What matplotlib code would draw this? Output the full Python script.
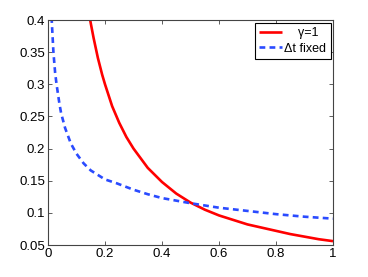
import matplotlib
matplotlib.use("Agg")
import matplotlib.pyplot as plt
import numpy as np

# red curve (gamma = 1)
red_x = [0.14, 0.15, 0.16, 0.175, 0.19, 0.2, 0.225, 0.25, 0.275, 0.3, 0.35, 0.4, 0.45,
         0.5, 0.55, 0.6, 0.65, 0.7, 0.75, 0.8, 0.85, 0.9, 0.95, 1.0]
red_y = [0.42, 0.395, 0.372, 0.341, 0.315, 0.300, 0.266, 0.240, 0.218, 0.200, 0.170,
         0.148, 0.130, 0.116, 0.105, 0.096, 0.089, 0.082, 0.077, 0.072, 0.067, 0.063,
         0.059, 0.056]

# blue dashed curve (dt fixed)
blue_x = [0.01, 0.013, 0.019, 0.025, 0.03, 0.04, 0.046, 0.06, 0.08, 0.1, 0.125, 0.15,
          0.2, 0.241, 0.3, 0.35, 0.4, 0.5, 0.6, 0.7, 0.8, 0.9, 1.0]
blue_y = [0.42, 0.40, 0.35, 0.318, 0.30, 0.270, 0.255, 0.232, 0.208, 0.192, 0.177,
          0.166, 0.152, 0.146, 0.136, 0.129, 0.123, 0.115, 0.108, 0.103, 0.098, 0.094,
          0.091]

x_ticks = [0, 0.2, 0.4, 0.6, 0.8, 1]
x_labels = ["0", "0.2", "0.4", "0.6", "0.8", "1"]
y_ticks = [0.05, 0.1, 0.15, 0.2, 0.25, 0.3, 0.35, 0.4]
y_labels = ["0.05", "0.1", "0.15", "0.2", "0.25", "0.3", "0.35", "0.4"]

plt.rcParams['font.family'] = ['Liberation Sans', 'DejaVu Sans']

fig = plt.figure(figsize=(3.68, 2.77), dpi=100)
ax = fig.add_axes([48/368, 1 - 245/277, (333-48)/368, (245-20)/277])

ax.plot(red_x, red_y, color='#ff0000', lw=1.9, label='    \u03b3=1', solid_capstyle='butt')
ax.plot(blue_x, blue_y, color='#2a4bff', lw=1.9, ls=(0, (2.2, 1.6)), label='\u0394t fixed')

ax.set_xlim(0, 1)
ax.set_ylim(0.05, 0.4)
ax.set_xticks(x_ticks)
ax.set_xticklabels(x_labels)
ax.set_yticks(y_ticks)
ax.set_yticklabels(y_labels)
ax.tick_params(direction='in', top=True, right=True, length=3, width=0.6,
               labelsize=9.5, color='#444444', pad=2)
for s in ax.spines.values():
    s.set_color('#444444')
    s.set_linewidth(0.8)

leg = ax.legend(loc='upper right', fontsize=9, fancybox=False, framealpha=1,
                edgecolor='black', borderpad=0.35, handlelength=1.8, handletextpad=0.2,
                labelspacing=0.3, borderaxespad=0.2)
leg.get_frame().set_linewidth(0.8)

fig.savefig('out.png', dpi=100)
